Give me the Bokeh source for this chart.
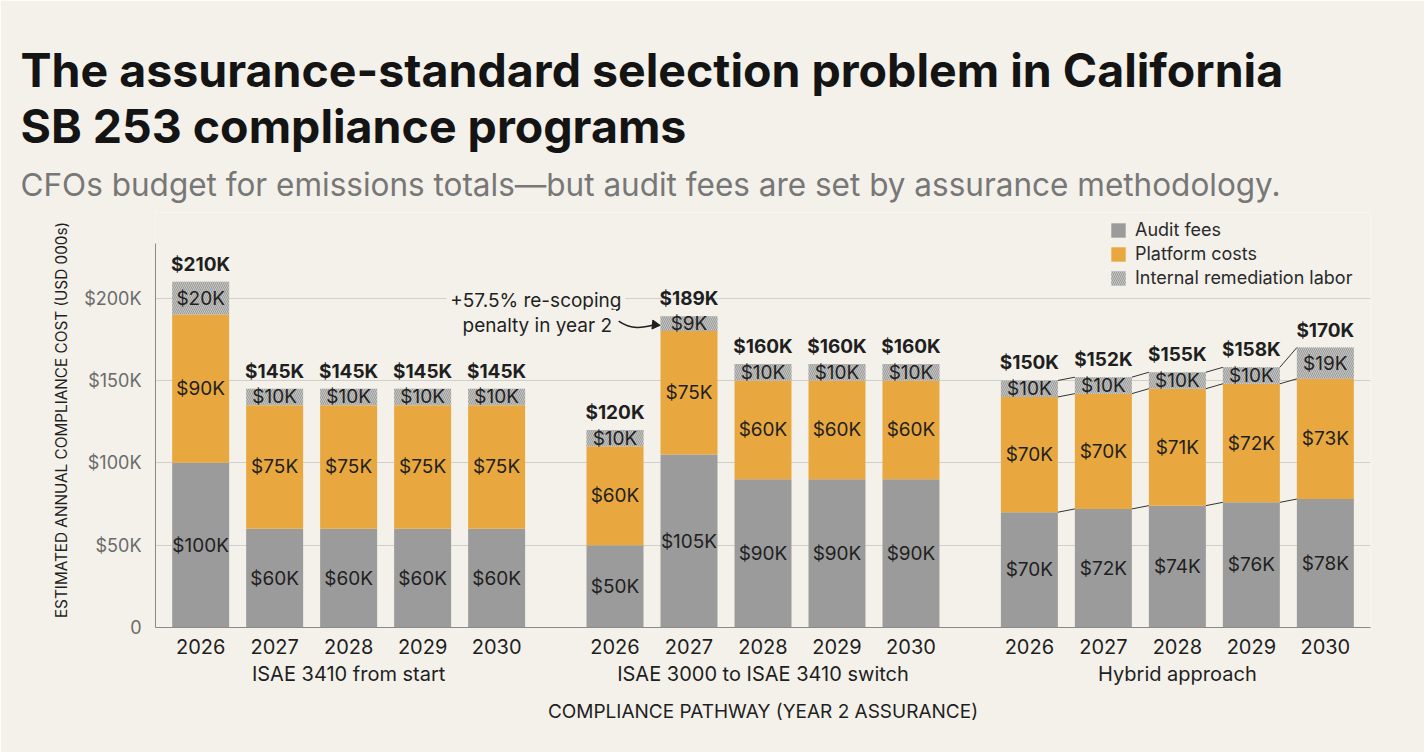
import numpy as np
from bokeh.plotting import figure
from bokeh.models import (FactorRange, ColumnDataSource, FixedTicker, Legend,
                          LegendItem, Title)
from bokeh.core.properties import value
from bokeh.embed import file_html
from bokeh.resources import INLINE

# ---- data (USD thousands) ----
pathways = ["ISAE 3410 from start", "ISAE 3000 to ISAE 3410 switch", "Hybrid approach"]
years = ["2026", "2027", "2028", "2029", "2030"]

audit_fees_3410 = [100, 60, 60, 60, 60]
platform_costs_3410 = [90, 75, 75, 75, 75]
remediation_labor_3410 = [20, 10, 10, 10, 10]

audit_fees_switch = [50, 105, 90, 90, 90]
platform_costs_switch = [60, 75, 60, 60, 60]
remediation_labor_switch = [10, 9, 10, 10, 10]

audit_fees_hybrid = [70, 72, 74, 76, 78]
platform_costs_hybrid = [70, 70, 71, 72, 73]
remediation_labor_hybrid = [10, 10, 10, 10, 19]

y_ticks = [0, 50, 100, 150, 200]
y_tick_labels = ["0", "$50K", "$100K", "$150K", "$200K"]

rescoping_note = "+57.5% re-scoping"
rescoping_note_2 = "penalty in year 2"

# ---- styling ----
BG = "#f3f1ea"
INK = "#1f1f1f"
AUDIT = "#9b9b9b"
PLATFORM = "#e8a83f"
LABOR = "#c6c6c4"
FONT = "Inter"

factors = [(pw, yr) for pw in pathways for yr in years]
audit = np.array(audit_fees_3410 + audit_fees_switch + audit_fees_hybrid, dtype=float)
platform = np.array(platform_costs_3410 + platform_costs_switch + platform_costs_hybrid, dtype=float)
labor = np.array(remediation_labor_3410 + remediation_labor_switch + remediation_labor_hybrid, dtype=float)
top_audit = audit
top_platform = audit + platform
total = top_platform + labor

BAR_W = 0.77

p = figure(
    width=1424, height=752,
    x_range=FactorRange(*factors, group_padding=0.6, range_padding=0.0136,
                        range_padding_units="percent"),
    y_range=(0, 252),
    output_backend="svg", toolbar_location=None,
    background_fill_color=BG, border_fill_color=BG,
    min_border_left=155, min_border_right=54, min_border_bottom=125,
    min_border_top=212,
)
p.outline_line_color = None

# ---- titles (stacked outward from the plot) ----
p.add_layout(Title(text="CFOs budget for emissions totals\u2014but audit fees are set by assurance methodology.",
                   text_font=FONT, text_font_size="31.5px", text_font_style="normal",
                   text_color="#777777", align="left", offset=-135, standoff=18), "above")
p.add_layout(Title(text="The assurance-standard selection problem in California\nSB 253 compliance programs",
                   text_font=FONT, text_font_size="46.5px", text_font_style="bold",
                   text_color="#141414", align="left", offset=-135, standoff=-1), "above")

# ---- stacked bars ----
src = ColumnDataSource(dict(
    x=factors, audit_top=top_audit, platform_top=top_platform, total=total,
    zero=np.zeros(len(factors)),
))
r_audit = p.vbar(x="x", bottom="zero", top="audit_top", width=BAR_W, source=src,
                 fill_color=AUDIT, line_color=None)
r_platform = p.vbar(x="x", bottom="audit_top", top="platform_top", width=BAR_W, source=src,
                    fill_color=PLATFORM, line_color=None)
r_labor = p.vbar(x="x", bottom="platform_top", top="total", width=BAR_W, source=src,
                 fill_color=LABOR, line_color=None,
                 hatch_pattern="\\", hatch_color="#9a9a98", hatch_scale=4, hatch_weight=1)

# ---- segment labels ----
seg_x, seg_y, seg_t = [], [], []
for i, f in enumerate(factors):
    for lo, hi, v in ((0, top_audit[i], audit[i]),
                      (top_audit[i], top_platform[i], platform[i]),
                      (top_platform[i], total[i], labor[i])):
        seg_x.append(f)
        seg_y.append((lo + hi) / 2)
        seg_t.append(f"${int(v)}K")
p.text(x="x", y="y", text="t", source=ColumnDataSource(dict(x=seg_x, y=seg_y, t=seg_t)),
       text_align="center", text_baseline="middle", text_font=value(FONT),
       text_font_size="19px", text_color=INK)

# ---- totals ----
p.text(x="x", y="y", text="t",
       source=ColumnDataSource(dict(x=factors, y=total, t=[f"${int(v)}K" for v in total])),
       text_align="center", text_baseline="bottom", y_offset=-6, text_font=value(FONT),
       text_font_size="19px", text_font_style="bold", text_color=INK)

# ---- connectors between hybrid bars ----
hyb = pathways[2]
hx0, hx1, hy0, hy1 = [], [], [], []
for i in range(len(years) - 1):
    a = len(years) * 2 + i
    b = a + 1
    for level in (top_audit, top_platform, total):
        hx0.append((hyb, years[i], BAR_W / 2))
        hx1.append((hyb, years[i + 1], -BAR_W / 2))
        hy0.append(level[a])
        hy1.append(level[b])
p.segment(x0="x0", y0="y0", x1="x1", y1="y1",
          source=ColumnDataSource(dict(x0=hx0, x1=hx1, y0=hy0, y1=hy1)),
          line_color="#333333", line_width=1)

# ---- re-scoping annotation ----
sw = pathways[1]
p.text(x=[(sw, "2026", -1.07), (sw, "2026", -1.05)], y=[198.5, 183.5],
       text=[rescoping_note, rescoping_note_2], text_align="center", text_baseline="middle",
       text_font=value(FONT), text_font_size="19px", text_color=INK,
       background_fill_color=BG, padding=4)
p.bezier(x0=[(sw, "2027", -0.95)], y0=[186.0], x1=[(sw, "2027", -0.47)], y1=[183.8],
         cx0=[(sw, "2027", -0.78)], cy0=[180.5], cx1=[(sw, "2027", -0.62)], cy1=[182.0],
         line_color=INK, line_width=1.5)
p.scatter(x=[(sw, "2027", -0.46)], y=[183.8], marker="triangle", angle=-np.pi / 2 - 0.1,
          size=9, fill_color=INK, line_color=INK)

# ---- axes & grid ----
p.xgrid.grid_line_color = None
p.ygrid.grid_line_color = "#cfcfcc"
p.ygrid.ticker = FixedTicker(ticks=y_ticks)

p.yaxis.ticker = FixedTicker(ticks=y_ticks)
p.yaxis.major_label_overrides = {t: l for t, l in zip(y_ticks, y_tick_labels)}
p.yaxis.bounds = (0, 233)
p.yaxis.axis_line_color = "#8a8a8a"
p.yaxis.major_tick_line_color = None
p.yaxis.minor_tick_line_color = None
p.yaxis.major_label_text_font = FONT
p.yaxis.major_label_text_font_size = "18px"
p.yaxis.major_label_text_color = "#6b6b6b"
p.yaxis.major_label_standoff = 8
p.yaxis.axis_label = "ESTIMATED ANNUAL COMPLIANCE COST (USD 000s)"
p.yaxis.axis_label_text_font = FONT
p.yaxis.axis_label_text_font_size = "15.3px"
p.yaxis.axis_label_text_font_style = "normal"
p.yaxis.axis_label_text_color = INK
p.yaxis.axis_label_standoff = 10

p.xaxis.axis_line_color = "#8a8a8a"
p.xaxis.major_tick_line_color = None
p.xaxis.minor_tick_line_color = None
p.xaxis.major_label_text_font = FONT
p.xaxis.major_label_text_font_size = "20px"
p.xaxis.major_label_text_color = INK
p.xaxis.group_text_font = FONT
p.xaxis.group_text_font_size = "20px"
p.xaxis.group_text_font_style = "normal"
p.xaxis.group_text_color = INK
p.xaxis.separator_line_color = None
p.xaxis.axis_label = "COMPLIANCE PATHWAY (YEAR 2 ASSURANCE)"
p.xaxis.axis_label_text_font = FONT
p.xaxis.axis_label_text_font_size = "19px"
p.xaxis.axis_label_text_font_style = "normal"
p.xaxis.axis_label_text_color = INK
p.xaxis.axis_label_standoff = 11

# ---- legend ----
legend = Legend(items=[
    LegendItem(label="Audit fees", renderers=[r_audit]),
    LegendItem(label="Platform costs", renderers=[r_platform]),
    LegendItem(label="Internal remediation labor", renderers=[r_labor]),
], location=(954, 339), background_fill_alpha=0, border_line_color=None,
    label_text_font=FONT, label_text_font_size="18px", label_text_color="#2a2a2a",
    glyph_width=18, glyph_height=18, spacing=3, label_standoff=8, padding=4, margin=0)
p.add_layout(legend)

open("out.html", "w").write(file_html(p, INLINE))
